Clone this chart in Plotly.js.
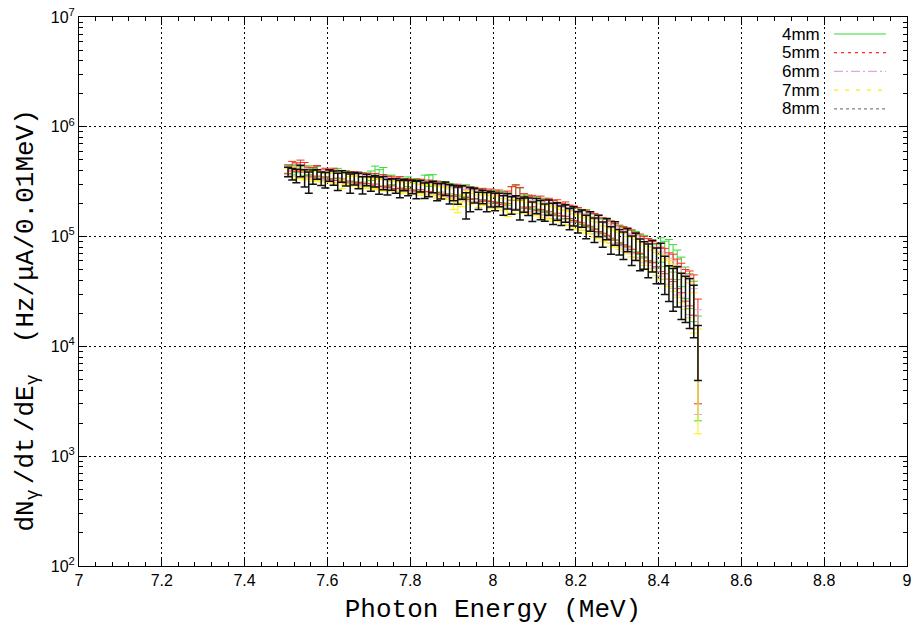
<!DOCTYPE html>
<html>
<head>
<meta charset="utf-8">
<script src="https://cdn.plot.ly/plotly-3.0.1.min.js"></script>
<style>html,body{margin:0;padding:0;background:#fff;}#chart{width:912px;height:629px;}</style>
</head>
<body>
<div id="chart"></div>
<script>
// Bin centres (MeV), 0.01 MeV bins
var energy = [
7.505,7.515,7.525,7.535,7.545,7.555,7.565,7.575,7.585,7.595,
7.605,7.615,7.625,7.635,7.645,7.655,7.665,7.675,7.685,7.695,
7.705,7.715,7.725,7.735,7.745,7.755,7.765,7.775,7.785,7.795,
7.805,7.815,7.825,7.835,7.845,7.855,7.865,7.875,7.885,7.895,
7.905,7.915,7.925,7.935,7.945,7.955,7.965,7.975,7.985,7.995,
8.005,8.015,8.025,8.035,8.045,8.055,8.065,8.075,8.085,8.095,
8.105,8.115,8.125,8.135,8.145,8.155,8.165,8.175,8.185,8.195,
8.205,8.215,8.225,8.235,8.245,8.255,8.265,8.275,8.285,8.295,
8.305,8.315,8.325,8.335,8.345,8.355,8.365,8.375,8.385,8.395,
8.405,8.415,8.425,8.435,8.445,8.455,8.465,8.475,8.485,8.495];

// dN/dt/dE (Hz/uA/0.01MeV)
var rate4mm = [
415e3,405e3,420e3,392e3,398e3,405e3,380e3,392e3,370e3,378e3,
372e3,365e3,380e3,350e3,360e3,345e3,352e3,340e3,348e3,330e3,
360e3,395e3,370e3,380e3,322e3,330e3,305e3,312e3,300e3,318e3,
296e3,302e3,290e3,330e3,325e3,330e3,280e3,286e3,270e3,275e3,
268e3,262e3,258e3,265e3,248e3,252e3,240e3,246e3,238e3,232e3,
236e3,228e3,230e3,222e3,250e3,262e3,245e3,210e3,212e3,200e3,
205e3,195e3,198e3,190e3,185e3,180e3,176e3,172e3,168e3,160e3,
158e3,150e3,152e3,142e3,138e3,132e3,126e3,122e3,116e3,112e3,
108e3,102e3,100e3,95e3,92e3,86e3,84e3,78e3,75e3,68e3,
78e3,72e3,74e3,66e3,58e3,50e3,40e3,34e3,28e3,10.5e3];

var rate5mm = [
410e3,440e3,432e3,448e3,430e3,392e3,388e3,400e3,372e3,385e3,
365e3,378e3,360e3,368e3,345e3,356e3,340e3,350e3,335e3,342e3,
325e3,338e3,318e3,328e3,315e3,322e3,308e3,314e3,300e3,306e3,
298e3,292e3,300e3,285e3,292e3,280e3,286e3,272e3,278e3,265e3,
262e3,270e3,252e3,258e3,245e3,250e3,238e3,244e3,236e3,240e3,
228e3,235e3,222e3,230e3,250e3,265e3,248e3,216e3,206e3,212e3,
198e3,205e3,192e3,196e3,185e3,190e3,178e3,180e3,170e3,165e3,
160e3,155e3,150e3,146e3,140e3,134e3,128e3,124e3,118e3,112e3,
106e3,104e3,98e3,96e3,90e3,88e3,82e3,78e3,74e3,70e3,
64e3,62e3,56e3,54e3,48e3,44e3,38e3,36e3,32e3,15e3];

var rate6mm = [
402e3,395e3,388e3,396e3,380e3,376e3,370e3,362e3,368e3,355e3,
358e3,350e3,345e3,348e3,338e3,340e3,330e3,332e3,322e3,325e3,
316e3,312e3,310e3,305e3,308e3,298e3,300e3,292e3,295e3,288e3,
285e3,288e3,278e3,280e3,272e3,275e3,268e3,262e3,265e3,255e3,
252e3,248e3,245e3,240e3,236e3,238e3,230e3,228e3,225e3,222e3,
218e3,216e3,212e3,210e3,206e3,204e3,200e3,196e3,195e3,190e3,
188e3,185e3,180e3,178e3,172e3,170e3,165e3,160e3,156e3,150e3,
146e3,142e3,136e3,132e3,126e3,122e3,116e3,112e3,106e3,103e3,
98e3,95e3,90e3,87e3,82e3,80e3,74e3,71e3,66e3,63e3,
58e3,55e3,50e3,47e3,42e3,40e3,34e3,30e3,24e3,12e3];

var rate7mm = [
385e3,392e3,372e3,380e3,365e3,370e3,355e3,362e3,350e3,345e3,
348e3,338e3,342e3,300e3,335e3,320e3,328e3,318e3,315e3,310e3,
306e3,300e3,304e3,295e3,298e3,288e3,292e3,280e3,285e3,278e3,
275e3,280e3,268e3,272e3,262e3,265e3,255e3,258e3,250e3,245e3,
200e3,185e3,215e3,235e3,222e3,228e3,212e3,220e3,215e3,208e3,
205e3,210e3,198e3,175e3,190e3,196e3,186e3,190e3,180e3,184e3,
178e3,174e3,170e3,168e3,162e3,160e3,156e3,150e3,148e3,140e3,
138e3,132e3,128e3,124e3,118e3,115e3,108e3,106e3,100e3,97e3,
93e3,90e3,85e3,82e3,78e3,75e3,70e3,66e3,62e3,58e3,
55e3,50e3,48e3,44e3,40e3,36e3,32e3,28e3,22e3,8e3];

var rate8mm = [
390e3,372e3,360e3,398e3,345e3,318e3,352e3,370e3,340e3,330e3,
362e3,345e3,320e3,355e3,336e3,310e3,340e3,325e3,298e3,330e3,
305e3,322e3,296e3,310e3,285e3,300e3,292e3,275e3,298e3,280e3,
286e3,270e3,290e3,265e3,272e3,285e3,258e3,262e3,275e3,248e3,
252e3,240e3,255e3,198e3,225e3,238e3,215e3,232e3,210e3,222e3,
210e3,218e3,196e3,212e3,195e3,205e3,182e3,198e3,190e3,172e3,
192e3,178e3,168e3,186e3,165e3,172e3,158e3,165e3,148e3,156e3,
138e3,148e3,126e3,140e3,118e3,128e3,108e3,120e3,96e3,110e3,
92e3,86e3,96e3,78e3,84e3,72e3,70e3,64e3,70e3,58e3,
62e3,48e3,40e3,36e3,38e3,32e3,30e3,28e3,24e3,10.2e3];

// Relative statistical errors per bin (4-7 mm runs share one set; 8 mm has its own)
var relErr = [
.09,.10,.09,.11,.10,.09,.10,.11,.10,.09,
.10,.11,.10,.09,.11,.10,.10,.11,.10,.11,
.10,.11,.10,.12,.11,.10,.11,.12,.11,.10,
.11,.12,.11,.10,.12,.11,.12,.11,.12,.11,
.12,.11,.13,.12,.11,.12,.13,.12,.11,.13,
.12,.13,.12,.13,.14,.12,.13,.14,.13,.12,
.13,.14,.13,.14,.15,.14,.13,.15,.14,.15,
.15,.14,.16,.15,.16,.17,.16,.17,.18,.17,
.18,.19,.18,.20,.21,.20,.22,.23,.22,.24,
.25,.26,.27,.28,.30,.30,.32,.35,.40,.80];

var relErr8mm = [
.10,.12,.14,.12,.18,.22,.15,.10,.14,.16,
.12,.15,.18,.12,.14,.20,.13,.16,.18,.12,
.15,.12,.18,.14,.16,.12,.15,.18,.12,.16,
.14,.18,.12,.16,.15,.12,.18,.16,.14,.20,
.16,.18,.14,.27,.25,.15,.18,.14,.20,.16,
.18,.14,.20,.16,.18,.15,.22,.16,.18,.20,
.16,.20,.18,.16,.22,.18,.20,.18,.22,.20,
.22,.18,.24,.20,.25,.22,.26,.22,.28,.24,
.26,.28,.24,.30,.28,.32,.28,.34,.32,.36,
.40,.38,.36,.42,.40,.45,.45,.48,.50,.52];

var seriesNames = ['4mm','5mm','6mm','7mm','8mm'];
var seriesRates = [rate4mm, rate5mm, rate6mm, rate7mm, rate8mm];
var seriesRel   = [relErr, relErr, relErr, relErr, relErr8mm];
var barColors   = ['#33dd33','#ff2a2a','#e4a4e4','#ffee00','#111111'];
var barWidths   = [1, 1, 1, 1, 1.5];
var legendColors = ['#33dd33','#ff2a2a','#e4a4e4','#ffee00','#808080'];
var legendDash   = ['solid','3px,4px','9px,3px,2px,3px','4px,7px','3px,3px'];

var traces = seriesNames.map(function(name, i){
  var y = seriesRates[i];
  var err = y.map(function(v, k){ return v * seriesRel[i][k]; });
  return {
    type: 'scatter', mode: 'markers', name: name,
    x: energy, y: y,
    marker: {size: 2, color: barColors[i], opacity: 0},
    error_y: {type: 'data', array: err, visible: true, color: barColors[i], thickness: barWidths[i], width: 4},
    showlegend: false, hoverinfo: 'skip'
  };
});

var yTickVals = [1e2,1e3,1e4,1e5,1e6,1e7];
var yTickText = ['10<sup>2</sup>','10<sup>3</sup>','10<sup>4</sup>','10<sup>5</sup>','10<sup>6</sup>','10<sup>7</sup>'];

var tickFont = {family: 'Liberation Sans, Arial, sans-serif', size: 16, color: '#000'};
var monoFont = {family: 'Liberation Mono, Courier New, monospace', size: 26, color: '#000'};

var annotations = [{
  xref: 'paper', yref: 'paper', x: 0, y: 0.5, xshift: -53, yshift: -29,
  xanchor: 'center', yanchor: 'middle', textangle: -90, showarrow: false,
  text: 'dN<sub>γ</sub>\u2009/dt\u2009/dE<sub>γ</sub>\u00A0\u00A0(Hz/μA/0.01MeV)', font: monoFont
}];
var shapes = [];
var legTop = 34, legStep = 18.7;
seriesNames.forEach(function(name, i){
  var py = legTop + i * legStep;
  var yp = (566 - py) / 549;
  annotations.push({xref: 'paper', yref: 'paper', x: (822 - 79) / 828, y: yp,
    xanchor: 'right', yanchor: 'middle', showarrow: false, text: name,
    font: {family: 'Liberation Sans, Arial, sans-serif', size: 17, color: '#000'}});
  shapes.push({type: 'line', xref: 'paper', yref: 'paper',
    x0: (834 - 79) / 828, x1: (886 - 79) / 828, y0: yp, y1: yp,
    line: {color: legendColors[i], width: 1.2, dash: legendDash[i]}});
});

var layout = {
  width: 912, height: 629,
  margin: {l: 79, r: 5, t: 17, b: 63},
  paper_bgcolor: '#fff', plot_bgcolor: '#fff',
  showlegend: false,
  xaxis: {
    range: [7, 9], tick0: 7, dtick: 0.2, ticks: 'inside', ticklen: 8, tickcolor: '#000',
    showline: true, linecolor: '#000', linewidth: 1, mirror: 'allticks',
    showgrid: true, gridcolor: '#000', gridwidth: 1, griddash: '2px,3px', zeroline: false,
    minor: {dtick: 0.04, tick0: 7, ticks: 'inside', ticklen: 4, tickcolor: '#000', showgrid: false},
    tickfont: tickFont, automargin: false,
    title: {text: 'Photon Energy (MeV)', font: monoFont, standoff: 10}
  },
  yaxis: {
    type: 'log', range: [2, 7], tickvals: yTickVals, ticktext: yTickText,
    ticks: 'inside', ticklen: 8, tickcolor: '#000',
    showline: true, linecolor: '#000', linewidth: 1, mirror: 'allticks',
    showgrid: true, gridcolor: '#000', gridwidth: 1, griddash: '2px,3px', zeroline: false,
    minor: {dtick: 'D1', ticks: 'inside', ticklen: 4, tickcolor: '#000', showgrid: false},
    tickfont: tickFont, automargin: false
  },
  annotations: annotations,
  shapes: shapes
};

Plotly.newPlot('chart', traces, layout, {staticPlot: true, displayModeBar: false});
</script>
</body>
</html>
